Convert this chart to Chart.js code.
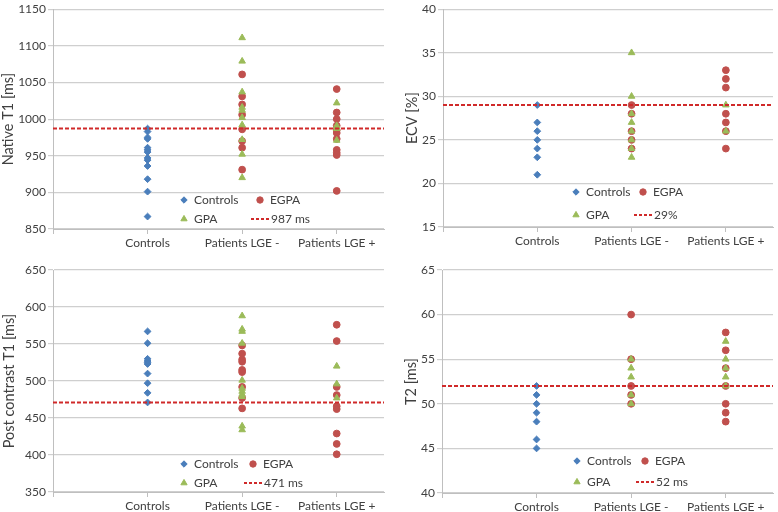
<!DOCTYPE html>
<html>
<head>
<meta charset="utf-8">
<script src="https://cdn.jsdelivr.net/npm/chart.js@4"></script>
<style>
  html, body { margin: 0; padding: 0; background: #fff; }
  #wrap { position: relative; width: 778px; height: 512px; }
  canvas { position: absolute; }
</style>
</head>
<body>
<div id="wrap">
  <canvas id="c1" width="389" height="256" style="left:0;top:0"></canvas>
  <canvas id="c2" width="389" height="256" style="left:389px;top:0"></canvas>
  <canvas id="c3" width="389" height="256" style="left:0;top:256px"></canvas>
  <canvas id="c4" width="389" height="256" style="left:389px;top:256px"></canvas>
</div>
<script>
// ---------------- dados ----------------
const categories = ["Controls", "Patients LGE -", "Patients LGE +"];

// Native T1 [ms]
const t1Controls = [987, 983, 975, 973, 961, 958, 955, 947, 944, 936, 918, 901, 867];
const t1EgpaNeg  = [1061, 1031, 1020, 1006, 986, 970, 961, 931];
const t1EgpaPos  = [1041, 1009, 1000, 991, 985, 981, 973, 958, 954, 951, 902];
const t1GpaNeg   = [1111, 1079, 1037, 1016, 1012, 1002, 992, 972, 952, 920];
const t1GpaPos   = [1022, 991, 987, 971];
const t1Cutoff   = 987;

// ECV [%]
const ecvControls = [29, 27, 26, 25, 24, 23, 21];
const ecvEgpaNeg  = [29, 28, 26, 25, 24];
const ecvEgpaPos  = [33, 32, 31, 28, 27, 26, 24];
const ecvGpaNeg   = [35, 30, 28, 27, 26, 25, 24, 23];
const ecvGpaPos   = [29, 26];
const ecvCutoff   = 29;

// Post contrast T1 [ms]
const pcControls = [567, 551, 530, 527, 525, 523, 510, 497, 484, 471];
const pcEgpaNeg  = [548, 537, 529, 526, 515, 512, 492, 477, 463];
const pcEgpaPos  = [576, 554, 492, 481, 466, 462, 429, 415, 401];
const pcGpaNeg   = [588, 570, 567, 551, 501, 490, 486, 482, 479, 439, 434];
const pcGpaPos   = [520, 496, 477];
const pcCutoff   = 471;

// T2 [ms]
const t2Controls = [52, 51, 50, 49, 48, 46, 45];
const t2EgpaNeg  = [60, 55, 52, 51, 50];
const t2EgpaPos  = [58, 56, 54, 52, 50, 49, 48];
const t2GpaNeg   = [55, 54, 53, 51, 50];
const t2GpaPos   = [57, 55, 54, 53, 52];
const t2Cutoff   = 52;

// ---------------- estilo ----------------
const FONT = "Lato, 'Open Sans', sans-serif";
const TXT = "#404040";
const C_BLUE = "#4a7ebb", C_RED = "#c0504d", C_GREEN = "#9bbb59", C_LINE = "#d02a2a";

const at = (x, arr) => arr.map(v => ({ x, y: v }));

function legendPlugin(lg, cutLabel) {
  return {
    id: "innerLegend",
    afterDatasetsDraw(chart) {
      const ctx = chart.ctx;
      const H = Chart.helpers;
      ctx.save();
      ctx.font = "12px " + FONT;
      ctx.fillStyle = TXT;
      ctx.textBaseline = "middle";
      const mk = (style, color, r, x, y) => {
        ctx.fillStyle = color; ctx.strokeStyle = color; ctx.lineWidth = 1;
        H.drawPoint(ctx, { pointStyle: style, radius: r, borderWidth: 1 }, x, y);
        ctx.fillStyle = TXT;
      };
      mk("rectRot", C_BLUE, 3.2, lg.x1, lg.y1);
      ctx.fillText("Controls", lg.x1 + 10, lg.y1);
      mk("circle", C_RED, 3.2, lg.x2, lg.y1);
      ctx.fillText("EGPA", lg.x2 + 10, lg.y1);
      mk("triangle", C_GREEN, 3.6, lg.x1, lg.y2);
      ctx.fillText("GPA", lg.x1 + 10, lg.y2);
      ctx.strokeStyle = C_LINE; ctx.lineWidth = 2; ctx.setLineDash([3, 2]);
      ctx.beginPath(); ctx.moveTo(lg.x2 - 9, lg.y2); ctx.lineTo(lg.x2 + 10, lg.y2); ctx.stroke();
      ctx.setLineDash([]);
      ctx.fillText(cutLabel, lg.x2 + 11, lg.y2);
      ctx.restore();
    }
  };
}

function makePanel(id, p) {
  const ctx = document.getElementById(id).getContext("2d");
  const W = 389, H = 256;
  return new Chart(ctx, {
    type: "scatter",
    data: {
      datasets: [
        { label: "cut", type: "line", data: [{ x: 0, y: p.cut }, { x: 3.5, y: p.cut }],
          borderColor: C_LINE, borderWidth: 2, borderDash: [4, 2], pointRadius: 0, order: 0 },
        { label: "GPA", data: at(2, p.gpaNeg).concat(at(3, p.gpaPos)),
          pointStyle: "triangle", pointRadius: 3.8, backgroundColor: C_GREEN, borderColor: C_GREEN, borderWidth: 1, order: 1 },
        { label: "EGPA", data: at(2, p.egpaNeg).concat(at(3, p.egpaPos)),
          pointStyle: "circle", pointRadius: 3.4, backgroundColor: C_RED, borderColor: C_RED, borderWidth: 1, order: 2 },
        { label: "Controls", data: at(1, p.controls),
          pointStyle: "rectRot", pointRadius: 3.4, backgroundColor: C_BLUE, borderColor: C_BLUE, borderWidth: 1, order: 3 },
      ]
    },
    options: {
      responsive: false, animation: false, events: [],
      layout: { padding: { left: p.padL, top: p.top, right: W - p.right, bottom: 0 } },
      plugins: { legend: { display: false }, tooltip: { enabled: false } },
      scales: {
        x: {
          type: "linear", min: 0, max: 3.5,
          afterBuildTicks: (ax) => { ax.ticks = [0, 1, 2, 3].map(v => ({ value: v })); },
          afterFit: (ax) => { ax.height = H - p.bottom; },
          ticks: { color: TXT, font: { family: FONT, size: 12 }, padding: 2, maxRotation: 0, autoSkip: false,
                   callback: (v) => ["", ...categories][v] },
          grid: { drawOnChartArea: false, drawTicks: true, tickLength: 5, color: "#bfbfbf" },
          border: { color: "#bfbfbf" }
        },
        y: {
          min: p.min, max: p.max,
          afterFit: (ax) => { ax.width = p.left - p.padL; },
          ticks: { stepSize: p.step, color: TXT, font: { family: FONT, size: 12 }, padding: 2,
                   callback: (v) => String(v) },
          grid: { color: "#cfcfcf", tickLength: 5, lineWidth: 1.2 },
          border: { color: "#bfbfbf" },
          title: { display: true, text: p.title, color: TXT, font: { family: FONT, size: 14.5 }, padding: 0 }
        }
      }
    },
    plugins: [legendPlugin(p.legend, p.cutLabel)]
  });
}

makePanel("c1", {
  title: "Native T1 [ms]", min: 850, max: 1150, step: 50,
  controls: t1Controls, egpaNeg: t1EgpaNeg, egpaPos: t1EgpaPos, gpaNeg: t1GpaNeg, gpaPos: t1GpaPos,
  cut: t1Cutoff, cutLabel: "987 ms",
  padL: 0, left: 53, top: 6, right: 385, bottom: 229,
  legend: { x1: 184, x2: 260, y1: 200, y2: 219 }
});
makePanel("c2", {
  title: "ECV [%]", min: 15, max: 40, step: 5,
  controls: ecvControls, egpaNeg: ecvEgpaNeg, egpaPos: ecvEgpaPos, gpaNeg: ecvGpaNeg, gpaPos: ecvGpaPos,
  cut: ecvCutoff, cutLabel: "29%",
  padL: 15, left: 54, top: 5, right: 386, bottom: 227,
  legend: { x1: 187, x2: 254, y1: 192, y2: 215 }
});
makePanel("c3", {
  title: "Post contrast T1 [ms]", min: 350, max: 650, step: 50,
  controls: pcControls, egpaNeg: pcEgpaNeg, egpaPos: pcEgpaPos, gpaNeg: pcGpaNeg, gpaPos: pcGpaPos,
  cut: pcCutoff, cutLabel: "471 ms",
  padL: 1, left: 53, top: 14, right: 388, bottom: 236,
  legend: { x1: 184, x2: 253, y1: 208, y2: 227 }
});
makePanel("c4", {
  title: "T2 [ms]", min: 40, max: 65, step: 5,
  controls: t2Controls, egpaNeg: t2EgpaNeg, egpaPos: t2EgpaPos, gpaNeg: t2GpaNeg, gpaPos: t2GpaPos,
  cut: t2Cutoff, cutLabel: "52 ms",
  padL: 14, left: 53, top: 14, right: 388, bottom: 237,
  legend: { x1: 188, x2: 256, y1: 205, y2: 226 }
});
</script>
</body>
</html>
